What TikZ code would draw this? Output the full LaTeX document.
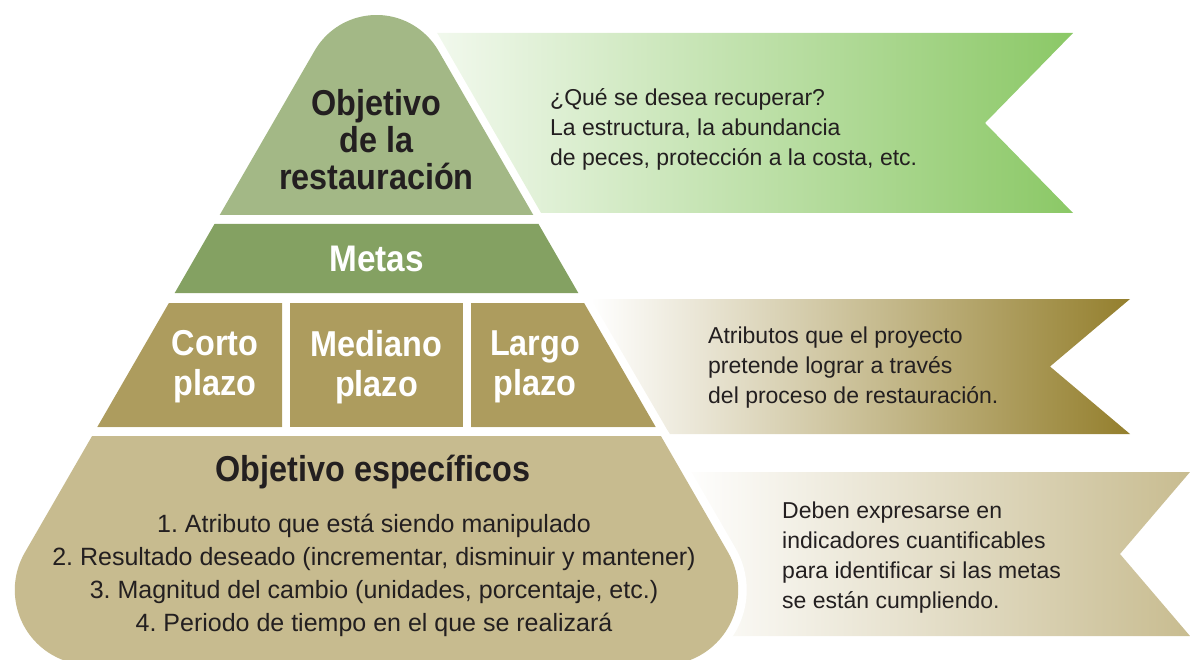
\documentclass[tikz,border=0pt]{standalone}
\usepackage{fontspec}
\setmainfont[BoldFeatures={FakeStretch=0.9}]{Liberation Sans}
\usetikzlibrary{shadings}
\definecolor{TopTier}{RGB}{163,184,134}
\definecolor{MetaTier}{RGB}{132,161,98}
\definecolor{TermTier}{RGB}{173,156,94}
\definecolor{BaseTier}{RGB}{199,187,143}
\definecolor{BannerGreen}{RGB}{139,200,102}
\definecolor{BannerGold}{RGB}{148,127,45}
\definecolor{BannerSand}{RGB}{200,188,144}
\definecolor{InkDark}{RGB}{35,31,32}

\begin{document}
\begin{tikzpicture}[
        x=1pt, y=-1pt,
        inner sep=0pt,
        tiertitle/.style={font=\bfseries\fontsize{36}{37}\selectfont, align=center, text=InkDark},
        tierlabel/.style={font=\bfseries\fontsize{36}{40}\selectfont, align=center, text=white},
        listtext/.style={font=\fontsize{25}{33}\selectfont, align=center, text=InkDark},
        note/.style={font=\fontsize{23}{30}\selectfont, align=left, anchor=west, text=InkDark},
    ]
    \useasboundingbox (0,0) rectangle (1190,660);

    % ===== BANNERS =====
    \shade[left color=BannerGreen!12, right color=BannerGreen]
        (437.2,33) -- (1073,33) -- (985,123) -- (1073,213) -- (541.1,213) -- cycle;
    \shade[left color=white, right color=BannerGold]
        (590.8,299) -- (1130,299) -- (1050,366.5) -- (1130,434) -- (669.7,434) -- cycle;
    \shade[left color=white, right color=BannerSand]
        (680,472) -- (1190,472) -- (1120,554) -- (1190,636) -- (680,636) -- cycle;

    % ===== PYRAMID =====
    \fill[TopTier] (219.7,215) -- (314.6,50.75) arc[start angle=210, end angle=330, radius=71.5] -- (533.3,215) -- cycle;
    \fill[MetaTier] (214.5,224) -- (538.5,224) -- (578.3,293) -- (174.7,293) -- cycle;
    \fill[TermTier] (168.9,303) -- (282,303) -- (282,427) -- (97.3,427) -- cycle;
    \fill[TermTier] (290,303) rectangle (463,427);
    \fill[TermTier] (471,303) -- (584.1,303) -- (655.7,427) -- (471,427) -- cycle;
    \fill[BaseTier, preaction={draw=white, line width=17pt, line join=round}]
        (92.1,436) -- (24.85,552.5) arc[start angle=210, end angle=90, radius=75]
        -- (663.2,665) arc[start angle=90, end angle=-30, radius=75] -- (660.9,436) -- cycle;

    % ===== TIER TEXT =====
    \node[tiertitle] (goal) at (376.5,140) {Objetivo\\de la\\restauración};
    \node[tierlabel, font=\bfseries\fontsize{37}{40}\selectfont] (metas) at (376.5,259) {Metas};
    \node[tierlabel] (corto) at (215,367) {Corto\\plazo};
    \node[tierlabel] (mediano) at (376.5,367) {Mediano\\plazo};
    \node[tierlabel] (largo) at (535,367) {Largo\\plazo};
    \node[tiertitle] (specific) at (373,472) {Objetivo específicos};
    \node[listtext] (items) at (374,575) {1.\ Atributo que está siendo manipulado\\
        2.\ Resultado deseado (incrementar, disminuir y mantener)\\
        3.\ Magnitud del cambio (unidades, porcentaje, etc.)\\
        4.\ Periodo de tiempo en el que se realizará};

    % ===== NOTES =====
    \node[note] (noteA) at (550,129) {¿Qué se desea recuperar?\\La estructura, la abundancia\\de peces, protección a la costa, etc.};
    \node[note] (noteB) at (708,368) {Atributos que el proyecto\\pretende lograr a través\\del proceso de restauración.};
    \node[note] (noteC) at (782,558) {Deben expresarse en\\indicadores cuantificables\\para identificar si las metas\\se están cumpliendo.};
\end{tikzpicture}
\end{document}
